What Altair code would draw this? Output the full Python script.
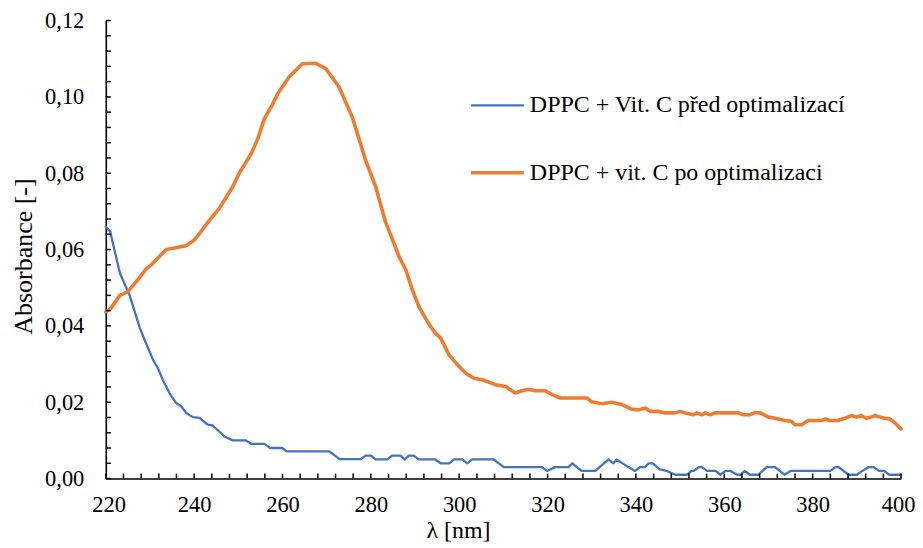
import altair as alt
import pandas as pd

# ---- data ----
blue_name = "DPPC + Vit. C před optimalizací"
orange_name = "DPPC + vit. C po optimalizaci"

blue_lam = [220, 221, 223.2, 225.4, 227.7, 228.8, 230.7, 231.8, 232.9, 234.4, 235.9, 237.1, 238.2,
            239.7, 241.2, 243.1, 244.2, 246.9, 248.7, 251.7, 252.9, 255.9, 257.2, 260, 260.9, 270.6,
            272.9, 277.7, 278.8, 280, 281.1, 283.7, 284.8, 286.7, 287.7, 288.6, 289.7, 290.9, 294.6,
            295.8, 297.7, 298.8, 300.7, 301.8, 302.9, 307.8, 310.1, 318.7, 319.9, 321.7, 324.7, 325.6,
            327.7, 330.8, 333.8, 334.9, 335.6, 338.3, 339.8, 340.9, 342, 342.9, 343.8, 345.4, 347,
            348.9, 351.5, 352.6, 353.1, 354.2, 354.9, 356.1, 358, 359.1, 360.3, 361.4, 362.9, 363.7,
            364.6, 365.8, 367.7, 369.6, 371.5, 373.6, 375, 384, 385.2, 385.9, 388.1, 390, 391.2,
            392.7, 393.8, 395, 396.2, 397.3, 400]
blue_val = [0.066, 0.0647, 0.0538, 0.048, 0.0395, 0.0363, 0.0311, 0.0289, 0.0259, 0.0224, 0.0198,
            0.0189, 0.0172, 0.0161, 0.0159, 0.0141, 0.0139, 0.011, 0.010, 0.010, 0.0091, 0.0091,
            0.008, 0.008, 0.0071, 0.0071, 0.0051, 0.0051, 0.006, 0.006, 0.005, 0.005, 0.006, 0.006,
            0.005, 0.006, 0.006, 0.005, 0.005, 0.004, 0.004, 0.005, 0.005, 0.004, 0.005, 0.005,
            0.003, 0.003, 0.002, 0.003, 0.003, 0.004, 0.002, 0.002, 0.005, 0.004, 0.005, 0.003,
            0.002, 0.003, 0.003, 0.004, 0.004, 0.0024, 0.002, 0.001, 0.001, 0.002, 0.002, 0.003,
            0.003, 0.002, 0.002, 0.001, 0.002, 0.002, 0.001, 0.001, 0.002, 0.001, 0.001, 0.003,
            0.003, 0.001, 0.002, 0.002, 0.003, 0.003, 0.001, 0.001, 0.002, 0.003, 0.003, 0.002,
            0.002, 0.001, 0.001]

orange_lam = [220, 221, 223.2, 225, 226.9, 229.2, 230.5, 231.8, 233.7, 235, 236.7, 238.2, 240,
              241.2, 243.5, 245.7, 248.7, 250.2, 252.9, 254.4, 255.9, 257.4, 258.9, 261.5, 264.5,
              267.5, 269.8, 272.8, 275.8, 278.8, 281.1, 283.3, 286.4, 287.9, 289.4, 290.9, 292.8,
              294.3, 295.8, 297.7, 299.6, 301.5, 303.3, 305.2, 308.2, 310.5, 312.7, 314.2, 315.7,
              317.2, 319.5, 321, 322.9, 328.9, 330, 332.3, 334.5, 336.8, 339, 340.6, 342.1, 343.2,
              345.1, 346.6, 348.9, 350, 351.1, 353, 353.8, 354.9, 355.7, 356.8, 357.9, 363.2, 364.3,
              365.8, 366.9, 368.1, 370, 371.5, 373.7, 375.2, 376, 377.5, 379, 382, 382.8, 383.9,
              385.8, 387.3, 388.8, 389.9, 391, 392.2, 393.3, 394.1, 395.2, 396.3, 397.5, 398.6, 400]
orange_val = [0.0437, 0.0444, 0.048, 0.049, 0.0516, 0.055, 0.0562, 0.0578, 0.060, 0.0603, 0.0607,
              0.061, 0.0625, 0.0642, 0.0677, 0.0708, 0.0764, 0.080, 0.0851, 0.089, 0.0943, 0.0973,
              0.1008, 0.1052, 0.1087, 0.1088, 0.1074, 0.1026, 0.0947, 0.0834, 0.0764, 0.0673,
              0.0581, 0.0547, 0.0494, 0.045, 0.0411, 0.0385, 0.0368, 0.0324, 0.0298, 0.0276,
              0.0263, 0.0259, 0.0246, 0.0241, 0.0224, 0.023, 0.0234, 0.023, 0.023, 0.022, 0.0211,
              0.0211, 0.0201, 0.0196, 0.020, 0.0194, 0.0182, 0.018, 0.0185, 0.0176, 0.0176, 0.0172,
              0.0172, 0.0176, 0.0172, 0.0167, 0.0172, 0.0167, 0.0172, 0.0167, 0.0172, 0.0172,
              0.0167, 0.0167, 0.0173, 0.0172, 0.0161, 0.0158, 0.0152, 0.015, 0.0141, 0.0141,
              0.0152, 0.0152, 0.0156, 0.0152, 0.0152, 0.0158, 0.0165, 0.0161, 0.0165, 0.0158,
              0.0161, 0.0165, 0.0161, 0.0158, 0.0156, 0.0146, 0.013]

x_ticks_major = [220, 240, 260, 280, 300, 320, 340, 360, 380, 400]
x_ticks_minor = [220, 224, 228, 232, 236, 240, 244, 248, 252, 256, 260, 264, 268, 272, 276, 280,
                 284, 288, 292, 296, 300, 304, 308, 312, 316, 320, 324, 328, 332, 336, 340, 344,
                 348, 352, 356, 360, 364, 368, 372, 376, 380, 384, 388, 392, 396, 400]
y_ticks_major = [0.0, 0.02, 0.04, 0.06, 0.08, 0.10, 0.12]
y_ticks_minor = [0.0, 0.004, 0.008, 0.012, 0.016, 0.02, 0.024, 0.028, 0.032, 0.036, 0.04, 0.044,
                 0.048, 0.052, 0.056, 0.06, 0.064, 0.068, 0.072, 0.076, 0.08, 0.084, 0.088, 0.092,
                 0.096, 0.1, 0.104, 0.108, 0.112, 0.116, 0.12]

# ---- build tables ----
df = pd.concat([
    pd.DataFrame({"lam": blue_lam, "A": blue_val, "series": blue_name, "order": range(len(blue_lam))}),
    pd.DataFrame({"lam": orange_lam, "A": orange_val, "series": orange_name, "order": range(len(orange_lam))}),
])
xt = pd.DataFrame({"lam": x_ticks_minor})
yt = pd.DataFrame({"A": y_ticks_minor})

FONT = "Liberation Serif, Times New Roman, serif"
W, H = 797, 459
xscale = alt.Scale(domain=[220, 400], nice=False, zero=False)
yscale = alt.Scale(domain=[0, 0.12], nice=False)

xaxis = alt.Axis(values=x_ticks_major, title="λ [nm]", ticks=False, tickSize=0,
                 labelPadding=15, labelFontSize=22.5, titleFontSize=24,
                 labelFlush=True, labelFlushOffset=14,
                 labelFont=FONT, titleFont=FONT, titleFontWeight="normal",
                 labelColor="#000", titleColor="#000", domainColor="#000", domainWidth=1.6,
                 grid=False, titleX=353, titleY=52, titleBaseline="middle")
yaxis = alt.Axis(values=y_ticks_major, title="Absorbance [-]", ticks=False, tickSize=0,
                 labelExpr="replace(format(datum.value, '.2f'), '.', ',')",
                 labelPadding=22, labelFontSize=22.5, titleFontSize=26, labelFlush=False,
                 labelFont=FONT, titleFont=FONT, titleFontWeight="normal",
                 labelColor="#000", titleColor="#000", domainColor="#000", domainWidth=1.6,
                 grid=False, titleX=-82, titleY=236, titleBaseline="middle")

lines = alt.Chart(df).mark_line(strokeJoin="round", strokeCap="round").encode(
    x=alt.X("lam:Q", scale=xscale, axis=xaxis),
    y=alt.Y("A:Q", scale=yscale, axis=yaxis),
    color=alt.Color("series:N",
                    scale=alt.Scale(domain=[blue_name, orange_name], range=["#4472C4", "#ED7D31"]),
                    legend=alt.Legend(title=None, orient="none", legendX=364, legendY=57,
                                      symbolType="stroke", symbolSize=2800, symbolStrokeWidth=3,
                                      labelFont=FONT, labelFontSize=24, labelColor="#000",
                                      labelOffset=4, rowPadding=27, labelLimit=600)),
    strokeWidth=alt.StrokeWidth("series:N",
                                scale=alt.Scale(domain=[blue_name, orange_name], range=[2.3, 3.6]),
                                legend=None),
    order="order:Q",
)

xtick_layer = alt.Chart(xt).mark_rule(color="#000", strokeWidth=1.5).encode(
    x=alt.X("lam:Q", scale=xscale, axis=xaxis),
    y=alt.value(H),
    y2=alt.value(H - 5),
)
ytick_layer = alt.Chart(yt).mark_rule(color="#000", strokeWidth=1.5).encode(
    y=alt.Y("A:Q", scale=yscale, axis=yaxis),
    x=alt.value(0),
    x2=alt.value(5),
)

chart = alt.layer(lines, xtick_layer, ytick_layer).properties(
    width=W, height=H,
    autosize=alt.AutoSizeParams(type="none"),
    padding={"left": 98, "top": 12, "right": 14, "bottom": 66},
).configure_view(stroke=None)

chart.save("out.html", embed_options={"renderer": "svg", "actions": False})
